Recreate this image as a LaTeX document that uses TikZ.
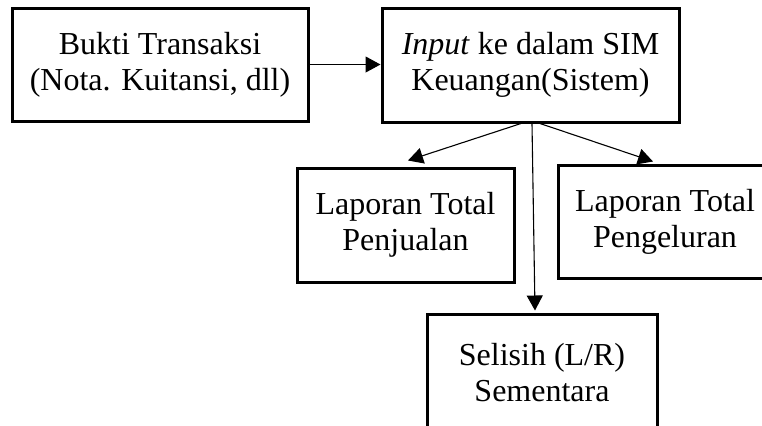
\documentclass[tikz,border=0pt]{standalone}
\usepackage{fontspec}
\setmainfont{Liberation Serif}
\usetikzlibrary{arrows.meta,positioning}
\tikzset{
  %define style for boxes
  kotak/.style={
    rectangle,
    draw=black,
    line width=1.5pt,
    inner sep=0pt,
    align=center,
    font=\fontsize{16}{18}\selectfont},
  %define style for arrows
  panah/.style={
    -{Triangle[length=7.5pt,width=8pt]},
    line width=0.55pt}
}
\begin{document}
\begin{tikzpicture}[x=0.5pt, y=-0.5pt]
\useasboundingbox (0,0) rectangle (762,425);
\clip (0,0) rectangle (762,425);
%nodes
\node[kotak, minimum width=148pt, minimum height=56.5pt] (bukti) at (160,64.5)
     {Bukti Transaksi\\(Nota. Kuitansi, dll)};
\node[kotak, minimum width=148.5pt, minimum height=57pt] (input) at (530.5,65)
     {\textit{Input} ke dalam SIM\\Keuangan(Sistem)};
\node[kotak, minimum width=108.5pt, minimum height=57pt] (jual) at (405.5,225)
     {Laporan Total\\Penjualan};
\node[kotak, minimum width=107pt, minimum height=56.5pt] (keluar) at (665,221.5)
     {Laporan Total\\Pengeluran};
\node[kotak, minimum width=115pt, minimum height=59pt] (selisih) at (542,373)
     {Selisih (L/R)\\Sementara};

%arrows
\draw[panah] (bukti.east) -- (bukti.east -| input.west);
\draw[panah] ([xshift=-4.75pt]input.south) -- ([xshift=1.25pt, yshift=3pt]jual.north);
\draw[panah] ([xshift=4.75pt]input.south) -- ([xshift=-6pt, yshift=1pt]keluar.north);
\draw[panah] ([xshift=0.75pt]input.south) -- ([xshift=-3.5pt, yshift=1pt]selisih.north);
\end{tikzpicture}
\end{document}
